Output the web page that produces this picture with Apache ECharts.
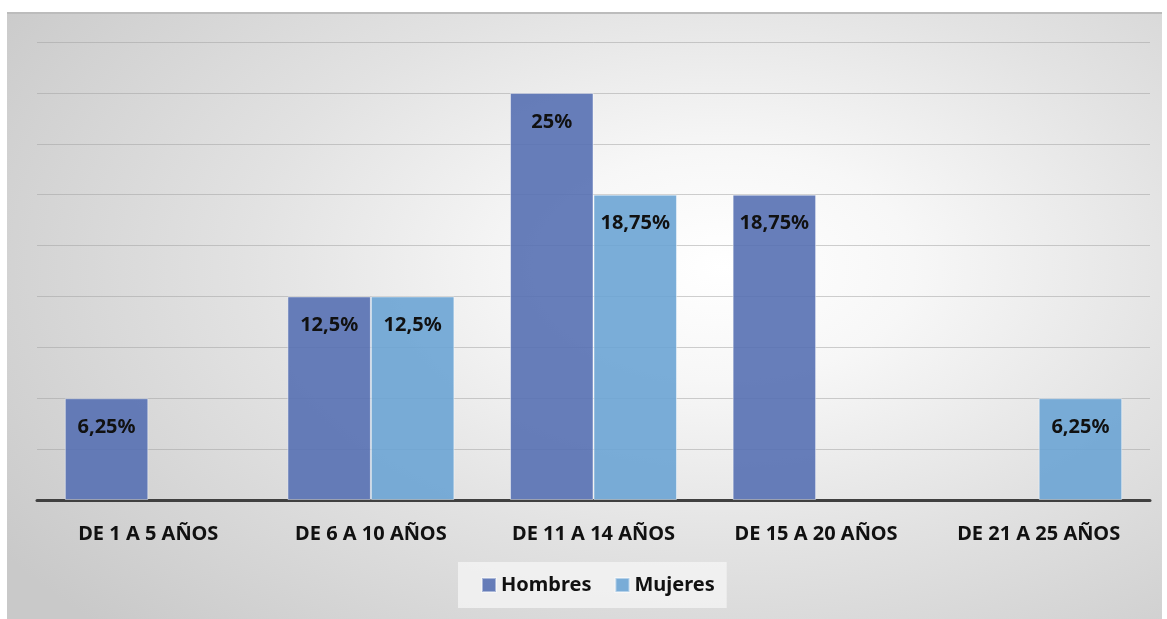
<!DOCTYPE html>
<html>
<head>
<meta charset="utf-8">
<script src="https://cdn.jsdelivr.net/npm/echarts@6/dist/echarts.min.js"></script>
<style>
  html, body { margin: 0; padding: 0; background: #ffffff; }
  #frame {
    position: absolute; left: 7px; top: 12px; width: 1155px; height: 607px;
    box-shadow: inset 0 2px 0 #bcbcbc;
    background: radial-gradient(ellipse 75% 85% at 62% 42%, #ffffff 0%, #f7f7f7 22%, #e2e2e2 55%, #c9c9c9 100%);
  }
  #chart { position: absolute; left: 0; top: 0; width: 1155px; height: 607px; }
</style>
</head>
<body>
<div id="frame"><div id="chart"></div></div>
<script>
// Age groups and the share of each group by sex (percent)
const categories = ['DE 1 A 5 AÑOS', 'DE 6 A 10 AÑOS', 'DE 11 A 14 AÑOS', 'DE 15 A 20 AÑOS', 'DE 21 A 25 AÑOS'];
const hombres = [6.25, 12.5, 25, 18.75, 0];
const mujeres = [0, 12.5, 18.75, 0, 6.25];
const seriesNames = ['Hombres', 'Mujeres'];

const FONT = '"Noto Sans", "Open Sans", sans-serif';
const pct = v => String(v).replace('.', ',') + '%';
const toBars = arr => arr.map(v => (v === 0 ? '-' : v));

const labelStyle = {
  show: true,
  position: 'insideTop',
  distance: 19,
  color: '#111111',
  fontFamily: FONT,
  fontWeight: 'bold',
  fontSize: 20,
  formatter: p => pct(p.value)
};

const chart = echarts.init(document.getElementById('chart'), null, { renderer: 'canvas' });
chart.setOption({
  backgroundColor: 'transparent',
  animation: false,
  grid: { left: 30, right: 12, top: 30, bottom: 119, containLabel: false },
  legend: {
    data: seriesNames,
    bottom: 11,
    left: 451,
    icon: 'rect',
    itemWidth: 14,
    itemHeight: 14,
    itemGap: 23,
    padding: [13, 12, 13, 23],
    backgroundColor: 'rgba(245,245,245,0.75)',
    textStyle: { fontFamily: FONT, fontWeight: 'bold', fontSize: 20, color: '#111111', padding: [0, 0, 0, 0] }
  },
  xAxis: {
    type: 'category',
    data: categories,
    axisTick: { show: false },
    axisLine: { lineStyle: { color: '#404040', width: 3 } },
    axisLabel: { margin: 24, fontFamily: FONT, fontWeight: 'bold', fontSize: 20, color: '#111111' }
  },
  yAxis: {
    type: 'value',
    min: 0,
    max: 28.125,
    interval: 3.125,
    axisLabel: { show: false },
    axisLine: { show: false },
    axisTick: { show: false },
    splitLine: { lineStyle: { color: 'rgba(160,160,160,0.5)', width: 1 } }
  },
  series: [
    {
      name: seriesNames[0],
      type: 'bar',
      data: toBars(hombres),
      barGap: '0%',
      barCategoryGap: '25%',
      itemStyle: { color: 'rgba(86,112,178,0.9)', borderColor: 'rgba(255,255,255,0.45)', borderWidth: 1 },
      label: labelStyle
    },
    {
      name: seriesNames[1],
      type: 'bar',
      data: toBars(mujeres),
      itemStyle: { color: 'rgba(108,164,212,0.9)', borderColor: 'rgba(255,255,255,0.45)', borderWidth: 1 },
      label: labelStyle
    }
  ]
});
</script>
</body>
</html>
